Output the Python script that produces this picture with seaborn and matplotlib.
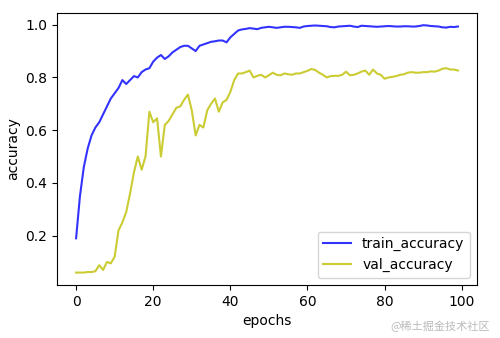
import numpy as np
import pandas as pd
import seaborn as sns
import matplotlib.pyplot as plt

epochs = list(range(100))
train_accuracy = [
    0.19, 0.35, 0.46, 0.53, 0.58, 0.61, 0.63, 0.66, 0.69, 0.72,
    0.74, 0.76, 0.79, 0.775, 0.79, 0.805, 0.80, 0.82, 0.83, 0.835,
    0.86, 0.875, 0.885, 0.87, 0.88, 0.895, 0.905, 0.915, 0.92, 0.92,
    0.91, 0.90, 0.92, 0.925, 0.93, 0.935, 0.937, 0.94, 0.94, 0.933,
    0.952, 0.965, 0.978, 0.982, 0.984, 0.987, 0.985, 0.983, 0.988, 0.99,
    0.992, 0.99, 0.988, 0.99, 0.992, 0.992, 0.991, 0.99, 0.988, 0.993,
    0.995, 0.996, 0.997, 0.996, 0.995, 0.994, 0.991, 0.99, 0.993, 0.994,
    0.995, 0.996, 0.993, 0.991, 0.996, 0.995, 0.994, 0.993, 0.992, 0.993,
    0.994, 0.995, 0.994, 0.993, 0.993, 0.994, 0.994, 0.993, 0.993, 0.995,
    0.998, 0.997, 0.995, 0.994, 0.993, 0.99, 0.989, 0.992, 0.991, 0.993,
]
val_accuracy = [
    0.06, 0.06, 0.06, 0.062, 0.062, 0.065, 0.088, 0.07, 0.10, 0.095,
    0.12, 0.22, 0.25, 0.29, 0.36, 0.44, 0.50, 0.45, 0.50, 0.67,
    0.63, 0.645, 0.50, 0.62, 0.635, 0.66, 0.685, 0.69, 0.715, 0.735,
    0.675, 0.58, 0.62, 0.61, 0.675, 0.70, 0.72, 0.67, 0.705, 0.715,
    0.745, 0.79, 0.815, 0.815, 0.82, 0.826, 0.80, 0.806, 0.81, 0.80,
    0.808, 0.818, 0.81, 0.808, 0.815, 0.812, 0.81, 0.815, 0.815, 0.82,
    0.825, 0.832, 0.828, 0.818, 0.81, 0.80, 0.805, 0.806, 0.806, 0.81,
    0.822, 0.808, 0.81, 0.815, 0.822, 0.826, 0.81, 0.83, 0.815, 0.81,
    0.795, 0.80, 0.802, 0.805, 0.81, 0.812, 0.818, 0.82, 0.818, 0.818,
    0.82, 0.82, 0.823, 0.822, 0.826, 0.833, 0.835, 0.83, 0.83, 0.826,
]

df = pd.DataFrame({'epochs': epochs, 'train_accuracy': train_accuracy,
                   'val_accuracy': val_accuracy})

fig, ax = plt.subplots(figsize=(5, 3.38), dpi=100)
fig.subplots_adjust(left=0.114, right=0.954, top=0.962, bottom=0.157)

sns.lineplot(data=df, x='epochs', y='train_accuracy', color='b', alpha=0.8,
             label='train_accuracy', ax=ax)
sns.lineplot(data=df, x='epochs', y='val_accuracy', color='y', alpha=0.8,
             label='val_accuracy', ax=ax)

ax.set_xlabel('epochs')
ax.set_ylabel('accuracy')
ax.set_xticks([0, 20, 40, 60, 80, 100])
ax.set_yticks([0.2, 0.4, 0.6, 0.8, 1.0])
ax.legend(loc='lower right')

fig.text(0.98, 0.035, '@稀土掘金技术社区', ha='right', va='center', fontsize=8,
         color='#bbbbbb', family=['Noto Sans CJK SC', 'DejaVu Sans'])

fig.savefig('out.png', dpi=100)
